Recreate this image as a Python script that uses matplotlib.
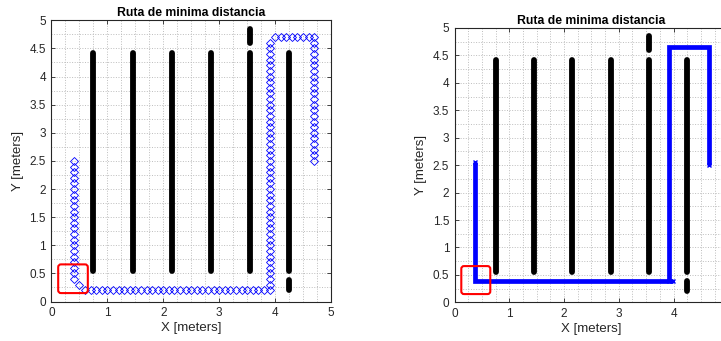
import matplotlib
matplotlib.use("Agg")
import matplotlib.pyplot as plt
from matplotlib.patches import FancyBboxPatch
from matplotlib.ticker import MultipleLocator, FuncFormatter

plt.rcParams["font.family"] = ["Liberation Sans", "DejaVu Sans"]

# ---- shelves (obstacles): x position, bottom, top (meters) ----
shelf_x  = [0.75, 1.45, 2.15, 2.85, 3.55, 4.25, 3.55, 4.25]
shelf_y0 = [0.55, 0.55, 0.55, 0.55, 0.55, 0.55, 4.60, 0.21]
shelf_y1 = [4.42, 4.42, 4.42, 4.42, 4.42, 4.42, 4.85, 0.39]

# ---- red start zone ----
zone_x, zone_y, zone_w, zone_h = 0.12, 0.15, 0.53, 0.51

# ---- left: grid route (one point per cell) ----
route_pts = [
    (0.4, 2.5), (0.4, 2.4), (0.4, 2.3), (0.4, 2.2), (0.4, 2.1), (0.4, 2.0),
    (0.4, 1.9), (0.4, 1.8), (0.4, 1.7), (0.4, 1.6), (0.4, 1.5), (0.4, 1.4),
    (0.4, 1.3), (0.4, 1.2), (0.4, 1.1), (0.4, 1.0), (0.4, 0.9), (0.4, 0.8),
    (0.4, 0.7), (0.4, 0.6), (0.4, 0.5), (0.4, 0.4), (0.5, 0.3),
    (0.6, 0.2), (0.7, 0.2), (0.8, 0.2), (0.9, 0.2), (1.0, 0.2), (1.1, 0.2),
    (1.2, 0.2), (1.3, 0.2), (1.4, 0.2), (1.5, 0.2), (1.6, 0.2), (1.7, 0.2),
    (1.8, 0.2), (1.9, 0.2), (2.0, 0.2), (2.1, 0.2), (2.2, 0.2), (2.3, 0.2),
    (2.4, 0.2), (2.5, 0.2), (2.6, 0.2), (2.7, 0.2), (2.8, 0.2), (2.9, 0.2),
    (3.0, 0.2), (3.1, 0.2), (3.2, 0.2), (3.3, 0.2), (3.4, 0.2), (3.5, 0.2),
    (3.6, 0.2), (3.7, 0.2), (3.8, 0.2), (3.9, 0.2),
    (3.9, 0.3), (3.9, 0.4), (3.9, 0.5), (3.9, 0.6), (3.9, 0.7), (3.9, 0.8),
    (3.9, 0.9), (3.9, 1.0), (3.9, 1.1), (3.9, 1.2), (3.9, 1.3), (3.9, 1.4),
    (3.9, 1.5), (3.9, 1.6), (3.9, 1.7), (3.9, 1.8), (3.9, 1.9), (3.9, 2.0),
    (3.9, 2.1), (3.9, 2.2), (3.9, 2.3), (3.9, 2.4), (3.9, 2.5), (3.9, 2.6),
    (3.9, 2.7), (3.9, 2.8), (3.9, 2.9), (3.9, 3.0), (3.9, 3.1), (3.9, 3.2),
    (3.9, 3.3), (3.9, 3.4), (3.9, 3.5), (3.9, 3.6), (3.9, 3.7), (3.9, 3.8),
    (3.9, 3.9), (3.9, 4.0), (3.9, 4.1), (3.9, 4.2), (3.9, 4.3), (3.9, 4.4),
    (3.9, 4.5), (3.9, 4.6),
    (4.0, 4.7), (4.1, 4.7), (4.2, 4.7), (4.3, 4.7), (4.4, 4.7), (4.5, 4.7),
    (4.6, 4.7), (4.7, 4.7),
    (4.7, 4.6), (4.7, 4.5), (4.7, 4.4), (4.7, 4.3), (4.7, 4.2), (4.7, 4.1),
    (4.7, 4.0), (4.7, 3.9), (4.7, 3.8), (4.7, 3.7), (4.7, 3.6), (4.7, 3.5),
    (4.7, 3.4), (4.7, 3.3), (4.7, 3.2), (4.7, 3.1), (4.7, 3.0), (4.7, 2.9),
    (4.7, 2.8), (4.7, 2.7), (4.7, 2.6), (4.7, 2.5),
]
route_x = [p[0] for p in route_pts]
route_y = [p[1] for p in route_pts]

# ---- right: simplified route, two polylines ----
seg1_x = [0.37, 0.37, 3.99]
seg1_y = [2.55, 0.39, 0.39]
seg2_x = [3.92, 3.92, 4.64, 4.64]
seg2_y = [0.39, 4.65, 4.65, 2.50]

TXT = "#262626"
GRIDC = "#bdbdbd"


def _style(ax, title, xmax_label=5):
    ax.set_xlim(0, 5)
    ax.set_ylim(0, 5)
    ax.xaxis.set_major_locator(MultipleLocator(1))
    ax.yaxis.set_major_locator(MultipleLocator(0.5))
    ax.xaxis.set_minor_locator(MultipleLocator(0.25))
    ax.yaxis.set_minor_locator(MultipleLocator(0.25))
    ax.xaxis.set_major_formatter(
        FuncFormatter(lambda v, p: f"{v:g}" if v <= xmax_label else ""))
    ax.yaxis.set_major_formatter(FuncFormatter(lambda v, p: f"{v:g}"))
    ax.grid(which="both", color=GRIDC, linestyle=":", linewidth=0.7)
    ax.set_axisbelow(True)
    ax.tick_params(which="major", direction="in", length=3, width=0.6,
                   top=True, right=True, colors=TXT, labelsize=8.5, pad=4)
    ax.tick_params(which="minor", length=0, top=True, right=True)
    for s in ax.spines.values():
        s.set_edgecolor(TXT)
        s.set_linewidth(0.8)
    ax.set_title(title, fontsize=8.8, fontweight="bold", color="black", pad=3)
    ax.set_xlabel("X [meters]", fontsize=9.5, color=TXT, labelpad=2)
    ax.set_ylabel("Y [meters]", fontsize=9.5, color=TXT, labelpad=4)

    for x, y0, y1 in zip(shelf_x, shelf_y0, shelf_y1):
        ax.plot([x, x], [y0, y1], color="black", lw=4.2,
                solid_capstyle="round", zorder=3)
    ax.add_patch(FancyBboxPatch((zone_x, zone_y), zone_w, zone_h,
                                boxstyle="round,pad=0,rounding_size=0.05",
                                fill=False, edgecolor="#ff0000", lw=1.5,
                                zorder=5))


fig = plt.figure(figsize=(7.21, 3.41), dpi=100)
fig.patch.set_facecolor("white")

ax1 = fig.add_axes([0.0714, 0.1158, 0.3877, 0.8247])
_style(ax1, "Ruta de minima distancia")
ax1.plot(route_x, route_y, linestyle="none", marker="D", markersize=4.2,
         markerfacecolor="none", markeredgecolor="#0000ff",
         markeredgewidth=0.6, zorder=4)

ax2 = fig.add_axes([0.6307, 0.1135, 0.3793, 0.8044])
_style(ax2, "Ruta de minima distancia", xmax_label=4)
for sx, sy in [(seg1_x, seg1_y), (seg2_x, seg2_y)]:
    ax2.plot(sx, sy, color="#0000ff", lw=3.4, solid_joinstyle="miter",
             solid_capstyle="butt", zorder=4)
    ax2.plot([sx[0], sx[-1]], [sy[0], sy[-1]], linestyle="none", marker="x",
             markersize=3, color="#0000ff", mew=1, zorder=4)

fig.savefig("out.png", dpi=100, facecolor="white")
